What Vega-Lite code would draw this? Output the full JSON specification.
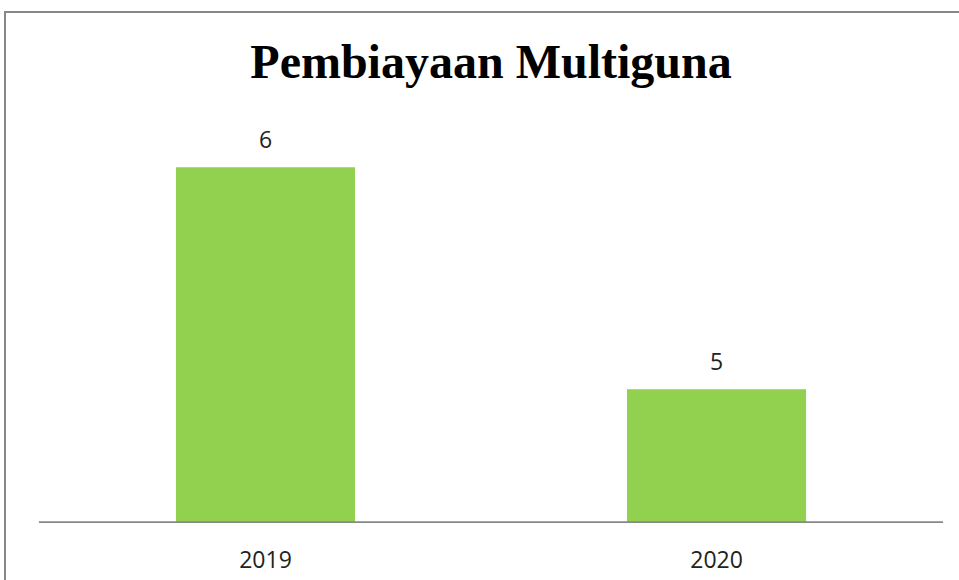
{
  "$schema": "https://vega.github.io/schema/vega-lite/v6.json",
  "width": 972,
  "height": 599,
  "autosize": {"type": "none"},
  "padding": {"left": 5, "top": 12, "right": 0, "bottom": 0},
  "background": "white",
  "config": {"view": {"stroke": "#878787", "strokeWidth": 2}},
  "title": {
    "text": "Pembiayaan Multiguna",
    "font": "Liberation Serif",
    "fontSize": 48,
    "fontWeight": "bold",
    "color": "#000000",
    "anchor": "middle",
    "frame": "group",
    "offset": -114,
    "baseline": "alphabetic"
  },
  "data": {"values": [{"year": "2019", "value": 6}, {"year": "2020", "value": 5}]},
  "layer": [
    {
      "mark": {"type": "bar", "color": "#92D050"},
      "encoding": {
        "x": {
          "field": "year",
          "type": "nominal",
          "scale": {"paddingInner": 0.603, "paddingOuter": 0.379},
          "axis": {
            "title": null,
            "domain": false,
            "ticks": false,
            "offset": -89,
            "labelAngle": 0,
            "labelFont": "Open Sans",
            "labelFontSize": 23,
            "labelColor": "#222222",
            "labelBaseline": "alphabetic",
            "labelPadding": 45
          }
        },
        "y": {
          "field": "value",
          "type": "quantitative",
          "scale": {"domain": [4, 6.7], "zero": false, "nice": false},
          "axis": null
        },
        "y2": {"datum": 4.4}
      }
    },
    {
      "mark": {"type": "text", "dy": -19, "baseline": "alphabetic", "font": "Open Sans", "fontSize": 23, "color": "#222222"},
      "encoding": {
        "x": {"field": "year", "type": "nominal"},
        "y": {"field": "value", "type": "quantitative"},
        "text": {"field": "value", "type": "quantitative"}
      }
    },
    {
      "mark": {"type": "rule", "color": "#878787", "strokeWidth": 1.5},
      "encoding": {
        "y": {"datum": 4.4},
        "x": {"datum": "2019", "bandPosition": -0.765},
        "x2": {"datum": "2020", "bandPosition": 1.765}
      }
    }
  ]
}
